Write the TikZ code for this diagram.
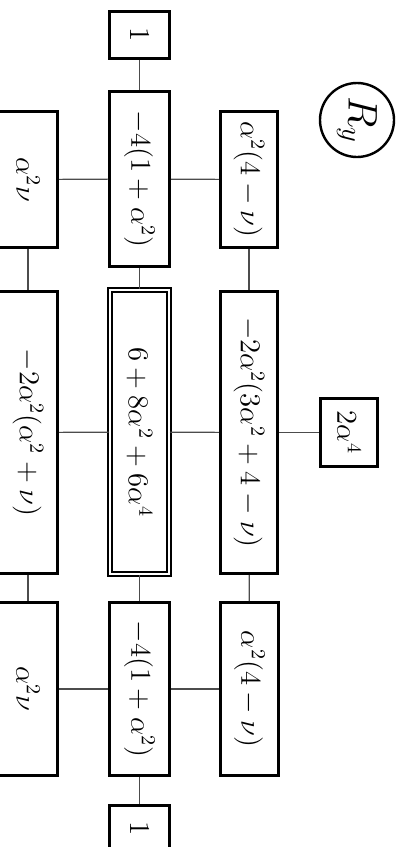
\documentclass[tikz,border=0pt]{standalone}
\begin{document}
\begin{tikzpicture}[x=0.5pt, y=-0.5pt]
  \tikzset{
    box/.style={draw, rectangle, line width=1.5pt, rotate=-90, inner sep=0pt, font=\Large},
    centre box/.style={box, double, line width=1pt, double distance=1pt},
    link/.style={black!70, line width=0.6pt},
    label circle/.style={draw, circle, line width=1.2pt, rotate=-90, inner sep=0pt,
      minimum size=37pt, font=\huge}
  }
  \useasboundingbox (0,0) rectangle (405,847);

  % Stencil label
  \node[label circle] (ry) at (357,120) {$R_y$};

  % Top row
  \node[box, minimum width=23.5pt, minimum height=30pt] (one1) at (139.5,35) {$1$};
  \node[box, minimum width=68pt, minimum height=29.5pt] (l1) at (28,179.5) {$\alpha^2\nu$};
  \node[box, minimum width=87.5pt, minimum height=30pt] (m1) at (139.5,179) {$-4(1+\alpha^2)$};
  \node[box, minimum width=68pt, minimum height=28.5pt] (r1) at (249,179.5) {$\alpha^2(4-\nu)$};

  % Middle row
  \node[box, minimum width=141pt, minimum height=29.5pt] (l2) at (28,432.5) {$-2\alpha^2(\alpha^2+\nu)$};
  \node[centre box, minimum width=142pt, minimum height=29.5pt] (c) at (139.5,432) {$6+8\alpha^2+6\alpha^4$};
  \node[box, minimum width=141pt, minimum height=28.5pt] (r2) at (249,432.5) {$-2\alpha^2(3\alpha^2+4-\nu)$};
  \node[box, minimum width=34pt, minimum height=28.5pt] (k) at (349,432.5) {$2\alpha^4$};

  % Bottom row
  \node[box, minimum width=86.5pt, minimum height=29.5pt] (l3) at (28,689) {$\alpha^2\nu$};
  \node[box, minimum width=86.5pt, minimum height=30pt] (m3) at (139.5,689) {$-4(1+\alpha^2)$};
  \node[box, minimum width=86.5pt, minimum height=29pt] (r3) at (249.5,689) {$\alpha^2(4-\nu)$};
  \node[box, minimum width=23.5pt, minimum height=30pt] (one2) at (139.5,829) {$1$};

  % Connections
  \foreach \a/\b in {one1/m1, m1/c, c/m3, m3/one2, l1/l2, l2/l3, r1/r2, r2/r3,
                     l1/m1, m1/r1, l2/c, c/r2, r2/k, l3/m3, m3/r3}
    \draw[link] (\a) -- (\b);
\end{tikzpicture}
\end{document}
